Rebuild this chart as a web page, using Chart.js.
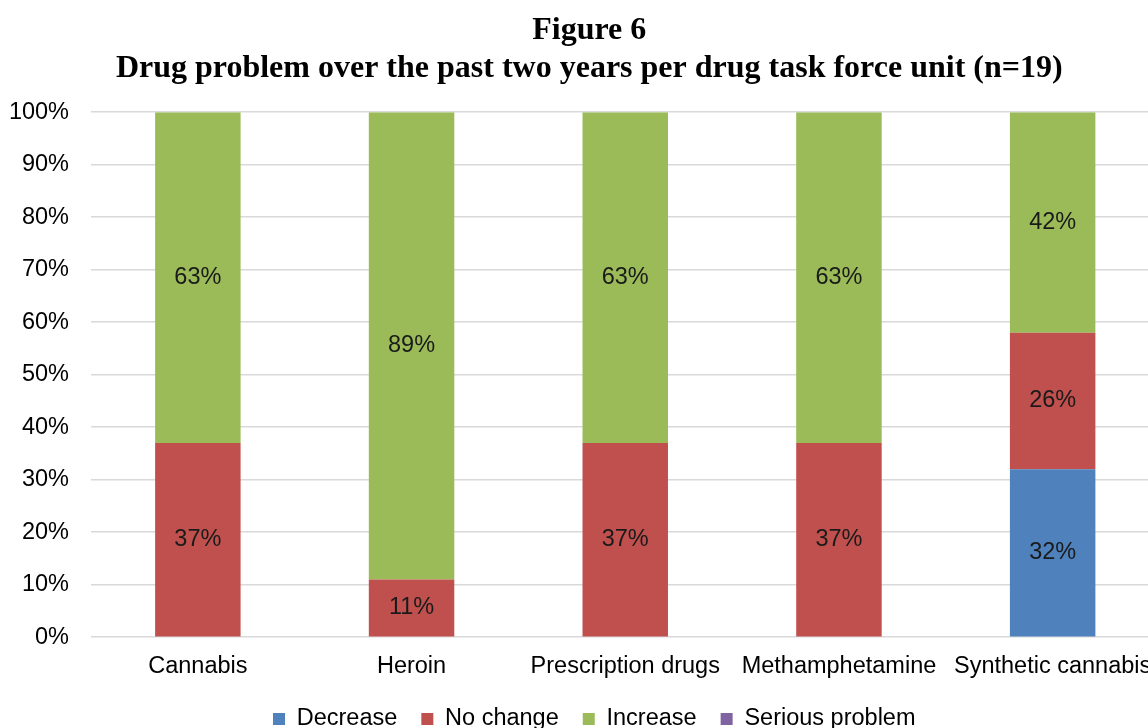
<!DOCTYPE html>
<html>
<head>
<meta charset="utf-8">
<script src="https://cdn.jsdelivr.net/npm/chart.js@4"></script>
<style>
  html, body { margin: 0; padding: 0; overflow: hidden; background: #fff; }
  #wrap { width: 1188px; height: 738px; }
</style>
</head>
<body>
<div id="wrap"><canvas id="drugChart"></canvas></div>
<script>
const drugs = ["Cannabis", "Heroin", "Prescription drugs", "Methamphetamine", "Synthetic cannabis"];
const decrease = [0, 0, 0, 0, 32];
const noChange = [37, 11, 37, 37, 26];
const increase = [63, 89, 63, 63, 42];
const seriousProblem = [0, 0, 0, 0, 0];
const yTicks = [0, 10, 20, 30, 40, 50, 60, 70, 80, 90, 100];

const sansFont = "'Liberation Sans', Arial, sans-serif";

// percentage labels in the middle of each segment
const segmentLabels = {
  id: "segmentLabels",
  afterDatasetsDraw(chart) {
    const ctx = chart.ctx;
    ctx.save();
    ctx.font = "23.5px " + sansFont;
    ctx.fillStyle = "#1a1a1a";
    ctx.textAlign = "center";
    ctx.textBaseline = "middle";
    chart.data.datasets.forEach((ds, i) => {
      const meta = chart.getDatasetMeta(i);
      meta.data.forEach((bar, j) => {
        const v = ds.data[j];
        if (!v) return;
        ctx.fillText(v + "%", bar.x, (bar.y + bar.base) / 2);
      });
    });
    ctx.restore();
  }
};

// title and legend sit a little right of the canvas centre
const nudgeBlocks = {
  id: "nudgeBlocks",
  afterLayout(chart) {
    if (chart.titleBlock) { chart.titleBlock.left += 9.5; chart.titleBlock.right += 9.5; }
    if (chart.legend) { chart.legend.left += 14.5; chart.legend.right += 14.5; }
  }
};

const ctx = document.getElementById("drugChart").getContext("2d");
new Chart(ctx, {
  type: "bar",
  data: {
    labels: drugs,
    datasets: [
      { label: "Decrease", data: decrease, backgroundColor: "#4F81BD" },
      { label: "No change", data: noChange, backgroundColor: "#C0504D" },
      { label: "Increase", data: increase, backgroundColor: "#9BBB59" },
      { label: "Serious problem", data: seriousProblem, backgroundColor: "#8064A2" }
    ]
  },
  options: {
    responsive: true,
    maintainAspectRatio: false,
    animation: false,
    datasets: { bar: { categoryPercentage: 1, barPercentage: 0.4, borderWidth: 0 } },
    layout: { padding: { left: 0, right: 28.5, top: 0, bottom: 0 } },
    plugins: {
      title: {
        display: true,
        text: ["Figure 6", "Drug problem over the past two years per drug task force unit (n=19)"],
        font: { family: "'Liberation Serif', 'Times New Roman', serif", size: 32, weight: "bold", lineHeight: 1.19 },
        color: "#000",
        padding: { top: 12, bottom: 24 }
      },
      legend: {
        position: "bottom",
        maxHeight: 54.8,
        labels: {
          font: { family: sansFont, size: 23.5 },
          color: "#000",
          boxWidth: 12,
          boxHeight: 12,
          padding: 24
        }
      },
      tooltip: { enabled: false }
    },
    scales: {
      x: {
        stacked: true,
        grid: { display: false, drawTicks: false },
        border: { display: false },
        ticks: {
          font: { family: sansFont, size: 23.5 },
          color: "#000",
          padding: 15,
          maxRotation: 0,
          autoSkip: false
        },
        afterFit(scale) { scale.height = 46; }
      },
      y: {
        stacked: true,
        min: 0,
        max: 100,
        grid: { color: "#D9D9D9", lineWidth: 1.5, drawTicks: false },
        border: { display: false },
        afterBuildTicks(scale) { scale.ticks = yTicks.map(v => ({ value: v })); },
        ticks: {
          font: { family: sansFont, size: 23.5 },
          color: "#000",
          padding: 22,
          callback: v => v + "%"
        },
        afterFit(scale) { scale.width = 91; }
      }
    }
  },
  plugins: [segmentLabels, nudgeBlocks]
});
</script>
</body>
</html>
